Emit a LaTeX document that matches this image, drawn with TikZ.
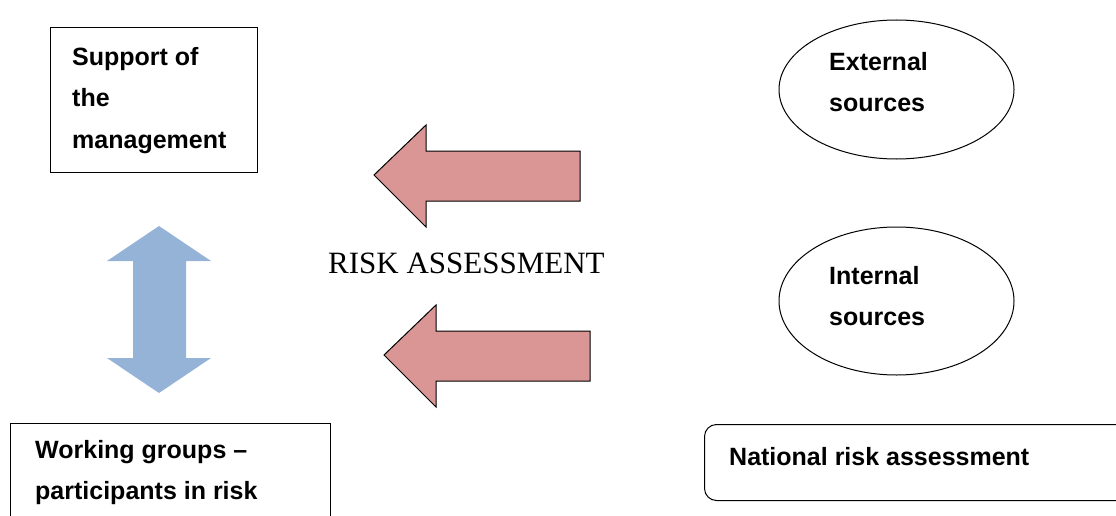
\documentclass[tikz,border=0pt]{standalone}
\usepackage{fontspec}
\setmainfont{Liberation Serif}
\setsansfont{Liberation Sans}
\usetikzlibrary{shapes.geometric}
\definecolor{riskred}{HTML}{D99694}
\definecolor{riskblue}{HTML}{95B3D7}
\tikzset{
  boxtxt/.style={font=\sffamily\bfseries\fontsize{25}{41}\selectfont, align=left, inner sep=0pt, anchor=base west},
  plainbox/.style={draw, line width=1.2pt, inner sep=0pt, anchor=north west},
  source/.style={draw, ellipse, line width=1pt, minimum width=235pt, inner sep=0pt},
  leftarrow/.style={draw, fill=riskred, line width=1pt, line join=miter}
}
\begin{document}
\begin{tikzpicture}[x=1pt,y=-1pt]
  \useasboundingbox (0,0) rectangle (1116,516);
  % boxes and sources
  \node[plainbox, minimum width=207pt, minimum height=145pt] (support) at (50,27) {};
  \node[plainbox, line width=1pt, minimum width=320pt, minimum height=110pt] (work) at (10,423) {};
  \node[plainbox, line width=1pt, rounded corners=12pt, minimum width=440pt, minimum height=76pt] (national) at (704,424) {};
  \node[source, minimum height=139pt] (ext) at (896.5,89.5) {};
  \node[source, minimum height=148pt] (int) at (896.5,301) {};
  % texts (base = last line)
  \node[boxtxt] (supporttxt) at (72,148) {Support of\\the\\management};
  \node[boxtxt] (worktxt) at (35,499) {Working groups --\\participants in risk};
  \node[boxtxt] (nationaltxt) at (729,465) {National risk assessment};
  \node[boxtxt] (exttxt) at (829,112) {External\\sources};
  \node[boxtxt] (inttxt) at (829,325) {Internal\\sources};
  \node[font=\fontsize{31}{37}\selectfont, inner sep=0pt, anchor=base west] (risk) at (328,273) {RISK ASSESSMENT};
  % block arrows
  \foreach \dx/\dy in {0/0, 10/180} {
    \filldraw[leftarrow] (374+\dx,175+\dy) -- (426+\dx,125+\dy) -- (426+\dx,151+\dy) -- (580+\dx,151+\dy)
      -- (580+\dx,201+\dy) -- (426+\dx,201+\dy) -- (426+\dx,227+\dy) -- cycle;
  }
  \fill[riskblue] (159,226) -- (211,261) -- (186,261) -- (186,358) -- (211,358) -- (159,393)
    -- (107,358) -- (133,358) -- (133,261) -- (107,261) -- cycle;
\end{tikzpicture}
\end{document}
